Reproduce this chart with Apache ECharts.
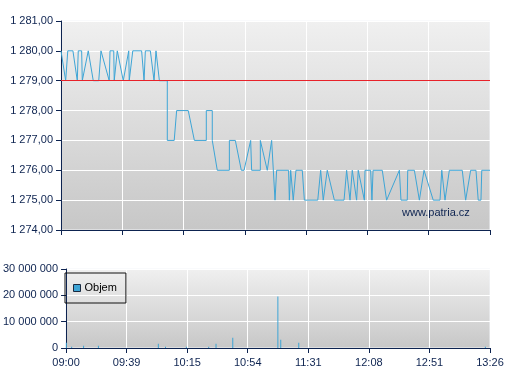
<!DOCTYPE html>
<html>
<head>
<meta charset="utf-8">
<script src="https://cdn.jsdelivr.net/npm/echarts@6/dist/echarts.min.js"></script>
<style>html,body{margin:0;padding:0;background:#fff}#c{width:507px;height:380px}</style>
</head>
<body>
<div id="c"></div>
<script>
// x positions are minutes after 09:00 (axis spans 09:00 .. 13:26)
const tickLabels = ['09:00','09:39','10:15','10:54','11:31','12:08','12:51','13:26'];
const priceTicks = [1274, 1275, 1276, 1277, 1278, 1279, 1280, 1281];
const volumeTicks = [0, 10000000, 20000000, 30000000];
const prevClose = 1279;

const priceTimes = [0, 2.9, 4.2, 7.4, 10.1, 10.7, 12.8, 13.2, 16.9, 20.0, 23.4, 24.8, 29.9, 30.4, 32.7, 33.0, 34.9, 38.6, 42.0, 42.3,
  44.5, 50.0, 51.5, 52.3, 55.4, 57.7, 58.9, 61.0, 65.9, 65.9, 70.2, 71.7, 78.9, 82.7, 90.1, 90.1, 93.8, 93.8, 96.9, 104.4,
  104.4, 108.1, 111.8, 113.5, 117.6, 118.2, 123.6, 123.6, 127.9, 130.6, 132.7, 133.7, 141.1, 141.6, 142.4, 144.0, 145.7, 149.6, 150.9, 159.2,
  161.0, 162.0, 162.6, 165.1, 166.2, 169.5, 175.5, 177.1, 179.2, 180.6, 183.3, 184.3, 188.1, 188.5, 192.0, 192.8, 193.5, 199.2, 201.9, 209.8,
  210.8, 214.7, 215.0, 219.1, 222.2, 225.1, 230.8, 235.0, 236.1, 238.1, 240.8, 248.8, 250.9, 254.0, 257.3, 258.7, 260.4, 260.9, 266.0];
const prices = [1280, 1279, 1280, 1280, 1279, 1280, 1280, 1279, 1280, 1279, 1279, 1280, 1279, 1280, 1280, 1279, 1280, 1279, 1280, 1279,
  1280, 1280, 1279, 1280, 1280, 1279, 1280, 1279, 1279, 1277, 1277, 1278, 1278, 1277, 1277, 1278, 1278, 1277, 1276, 1276,
  1277, 1277, 1276, 1276, 1277, 1276, 1276, 1277, 1276, 1277, 1275, 1276, 1276, 1275, 1276, 1275, 1276, 1276, 1275, 1275,
  1276, 1276, 1275, 1276, 1276, 1275, 1275, 1276, 1275, 1276, 1275, 1276, 1275, 1276, 1276, 1275, 1276, 1276, 1275, 1276,
  1275, 1275, 1276, 1276, 1275, 1276, 1275, 1275, 1276, 1275, 1276, 1276, 1275, 1276, 1276, 1275, 1275, 1276, 1276];

const volumeTimes = [0.2, 3.5, 11.0, 20.3, 57.9, 62.4, 75.5, 89.5, 94.1, 104.6, 132.9, 134.7, 146.0, 263.1];
const volumes = [2000000, 500000, 900000, 900000, 1600000, 500000, 500000, 500000, 1600000, 3900000, 19600000, 3100000, 2000000, 500000];

const FONT = 'Liberation Sans';
const NAVY = '#0d2350';
const LINE = '#3ea5d6';

function fmtThousands(s) { return s.replace(/\B(?=(\d{3})+(?!\d))/g, ' '); }
function fmtPrice(v) { const p = v.toFixed(2).split('.'); return fmtThousands(p[0]) + ',' + p[1]; }
function fmtVol(v) { return fmtThousands(String(Math.round(v))); }

const bg = {type:'linear', x:0, y:0, x2:0, y2:1, colorStops:[{offset:0, color:'#f0f0f0'}, {offset:1, color:'#c7c7c7'}]};
const step = (266) / (tickLabels.length - 1);

function xAxis(gridIndex, showLabels) {
  return {
    type: 'value', gridIndex, min: 0, max: 266, interval: step,
    axisLine: {show: true, onZero: false, lineStyle: {color: NAVY, width: 1}},
    axisTick: {show: true, length: 5, lineStyle: {color: NAVY}},
    axisLabel: {show: showLabels, color: NAVY, fontFamily: FONT, fontSize: 11, margin: 9,
      formatter: v => tickLabels[Math.round(v / step)]},
    splitLine: {show: true, lineStyle: {color: '#ffffff', width: 1}}
  };
}
function yAxis(gridIndex, ticks, fmt) {
  return {
    type: 'value', gridIndex, min: ticks[0], max: ticks[ticks.length - 1], interval: ticks[1] - ticks[0],
    axisLine: {show: true, lineStyle: {color: NAVY, width: 1}},
    axisTick: {show: true, length: 5, lineStyle: {color: NAVY}},
    axisLabel: {color: NAVY, fontFamily: FONT, fontSize: 11, margin: 8, formatter: fmt},
    splitLine: {show: true, lineStyle: {color: '#ffffff', width: 1}}
  };
}

const chart = echarts.init(document.getElementById('c'), null, {renderer: 'canvas'});
chart.setOption({
  animation: false,
  backgroundColor: '#ffffff',
  textStyle: {fontFamily: FONT},
  grid: [
    {left: 61, right: 17, top: 21, height: 209, show: true, backgroundColor: bg, borderColor: '#f2f4f8', borderWidth: 1},
    {left: 61, right: 17, top: 269, height: 79, show: true, backgroundColor: bg, borderColor: '#f2f4f8', borderWidth: 1}
  ],
  xAxis: [xAxis(0, false), xAxis(1, true)],
  yAxis: [yAxis(0, priceTicks, fmtPrice), yAxis(1, volumeTicks, fmtVol)],
  legend: {
    data: ['Objem'], left: 65, top: 273, orient: 'vertical',
    padding: [9, 9, 9, 8], borderColor: '#111111', borderWidth: 1, borderRadius: 0, backgroundColor: 'transparent',
    shadowBlur: 0, shadowColor: 'rgba(0,0,0,0)', shadowOffsetX: 0, shadowOffsetY: 0,
    itemWidth: 7, itemHeight: 7, itemGap: 0, icon: 'rect',
    itemStyle: {borderColor: '#1a2a40', borderWidth: 1},
    textStyle: {color: '#000000', fontFamily: FONT, fontSize: 11, lineHeight: 12, padding: [0, 0, 0, -1]}
  },
  graphic: [{
    type: 'text', left: 402, top: 207,
    style: {text: 'www.patria.cz', fill: NAVY, font: '11px "Liberation Sans"'}
  }],
  series: [
    {
      name: 'Cena', type: 'line', xAxisIndex: 0, yAxisIndex: 0,
      data: priceTimes.map((t, i) => [t, prices[i]]),
      showSymbol: false, symbol: 'none',
      lineStyle: {color: LINE, width: 1}, itemStyle: {color: LINE},
      markLine: {
        silent: true, symbol: ['none', 'none'], label: {show: false},
        lineStyle: {color: '#e8222a', width: 1, type: 'solid'},
        data: [{yAxis: prevClose}]
      },
      z: 3
    },
    {
      name: 'Objem', type: 'bar', xAxisIndex: 1, yAxisIndex: 1,
      data: volumeTimes.map((t, i) => [t, volumes[i]]),
      barWidth: 1, itemStyle: {color: LINE}
    }
  ]
});
</script>
</body>
</html>
